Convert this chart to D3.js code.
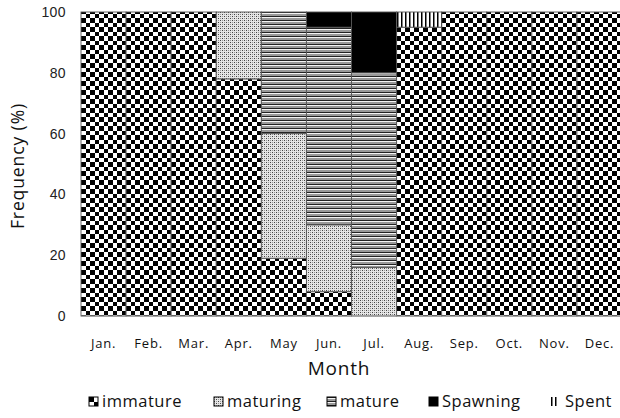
<!DOCTYPE html>
<html>
<head>
<meta charset="utf-8">
<script src="https://cdn.jsdelivr.net/npm/d3@7"></script>
<style>
	body { margin: 0; background: #fff; }
	svg { display: block; font-family: "Open Sans", Lato, sans-serif; }
</style>
</head>
<body>
<div id="chart"></div>
<script>
// Data (percent of each stage per month)
const months = ["Jan.", "Feb.", "Mar.", "Apr.", "May", "Jun.", "Jul.", "Aug.", "Sep.", "Oct.", "Nov.", "Dec."];
const stages = ["immature", "maturing", "mature", "Spawning", "Spent"];
const immature = [100, 100, 100, 78, 19, 8, 0, 95, 100, 100, 100, 100];
const maturing = [0, 0, 0, 22, 41, 22, 16, 0, 0, 0, 0, 0];
const mature = [0, 0, 0, 0, 40, 65, 64, 0, 0, 0, 0, 0];
const spawning = [0, 0, 0, 0, 0, 5, 20, 0, 0, 0, 0, 0];
const spent = [0, 0, 0, 0, 0, 0, 0, 5, 0, 0, 0, 0];
const yTicks = [0, 20, 40, 60, 80, 100];

const width = 620, height = 418;
const margin = {top: 12, right: -2, bottom: 102, left: 81};

const table = months.map((m, i) => ({
	month: m,
	immature: immature[i],
	maturing: maturing[i],
	mature: mature[i],
	Spawning: spawning[i],
	Spent: spent[i]
}));

const svg = d3.select("#chart").append("svg")
	.attr("width", width)
	.attr("height", height);

// Patterns
const defs = svg.append("defs");

let p = defs.append("pattern").attr("id", "pat-immature")
	.attr("patternUnits", "userSpaceOnUse").attr("width", 9).attr("height", 9);
p.append("rect").attr("width", 9).attr("height", 9).attr("fill", "#fff");
p.append("rect").attr("width", 4.5).attr("height", 4.5).attr("fill", "#000")
	.attr("shape-rendering", "crispEdges");
p.append("rect").attr("x", 4.5).attr("y", 4.5).attr("width", 4.5).attr("height", 4.5).attr("fill", "#000")
	.attr("shape-rendering", "crispEdges");

p = defs.append("pattern").attr("id", "pat-maturing")
	.attr("patternUnits", "userSpaceOnUse").attr("width", 4).attr("height", 4);
p.append("rect").attr("width", 4).attr("height", 4).attr("fill", "#e6e6e6");
p.append("rect").attr("width", 1).attr("height", 1).attr("fill", "#444");
p.append("rect").attr("x", 2).attr("y", 2).attr("width", 1).attr("height", 1).attr("fill", "#444");
p.append("rect").attr("x", 2).attr("y", 0).attr("width", 1).attr("height", 1).attr("fill", "#999");
p.append("rect").attr("x", 0).attr("y", 2).attr("width", 1).attr("height", 1).attr("fill", "#999");

p = defs.append("pattern").attr("id", "pat-mature")
	.attr("patternUnits", "userSpaceOnUse").attr("width", 4).attr("height", 4);
p.append("rect").attr("width", 4).attr("height", 4).attr("fill", "#999");
p.append("rect").attr("width", 4).attr("height", 1).attr("fill", "#222");
p.append("rect").attr("y", 1).attr("width", 4).attr("height", 1).attr("fill", "#f4f4f4");

p = defs.append("pattern").attr("id", "pat-Spawning")
	.attr("patternUnits", "userSpaceOnUse").attr("width", 4).attr("height", 4);
p.append("rect").attr("width", 4).attr("height", 4).attr("fill", "#000");

p = defs.append("pattern").attr("id", "pat-Spent")
	.attr("patternUnits", "userSpaceOnUse").attr("width", 4).attr("height", 4);
p.append("rect").attr("width", 4).attr("height", 4).attr("fill", "#fff");
p.append("rect").attr("x", 1).attr("width", 1.5).attr("height", 4).attr("fill", "#000");

// Scales
const x = d3.scaleBand()
	.domain(months)
	.range([margin.left, width - margin.right])
	.padding(0);
const y = d3.scaleLinear()
	.domain([0, 100])
	.range([height - margin.bottom, margin.top]);

const series = d3.stack().keys(stages)(table);

// Bars
svg.append("g").selectAll("g")
	.data(series)
	.join("g")
		.attr("fill", d => "url(#pat-" + d.key + ")")
	.selectAll("rect")
	.data(d => d.filter(s => s[1] - s[0] > 0))
	.join("rect")
		.attr("x", d => x(d.data.month))
		.attr("y", d => y(d[1]))
		.attr("width", x.bandwidth())
		.attr("height", d => y(d[0]) - y(d[1]))
		.attr("stroke", "#555")
		.attr("stroke-width", 0.9);

// Bottom axis line
svg.append("line")
	.attr("x1", margin.left).attr("x2", width)
	.attr("y1", y(0)).attr("y2", y(0))
	.attr("stroke", "#999").attr("stroke-width", 1.2);

// Y tick labels
svg.append("g").selectAll("text")
	.data(yTicks)
	.join("text")
		.attr("x", 66)
		.attr("y", d => y(d) + 5)
		.attr("text-anchor", "end")
		.style("font-family", "'Liberation Sans', Arial, sans-serif")
		.style("font-size", "14px")
		.style("letter-spacing", "0.4px")
		.attr("fill", "#222")
		.text(d => d);

// Month labels
svg.append("g").selectAll("text")
	.data(months)
	.join("text")
		.attr("x", d => x(d) + x.bandwidth() / 2)
		.attr("y", 348)
		.attr("text-anchor", "middle")
		.style("font-size", "13px")
		.style("letter-spacing", "0.8px")
		.attr("fill", "#111")
		.text(d => d);

// Axis titles
svg.append("text")
	.attr("x", 339)
	.attr("y", 375)
	.attr("text-anchor", "middle")
	.style("font-size", "19px")
	.style("letter-spacing", "0.8px")
	.attr("fill", "#111")
	.text("Month");

svg.append("text")
	.attr("transform", "translate(24," + 166 + ") rotate(-90)")
	.attr("text-anchor", "middle")
	.style("font-size", "17.5px")
	.style("letter-spacing", "0.9px")
	.attr("fill", "#111")
	.text("Frequency (%)");

// Legend
const legendX = [89, 214, 327, 429, 550];
const legend = svg.append("g").selectAll("g")
	.data(stages)
	.join("g")
		.attr("transform", (d, i) => "translate(" + legendX[i] + ",397)");

legend.append("rect")
	.attr("width", 9).attr("height", 9)
	.attr("fill", d => "url(#pat-" + d + ")")
	.attr("stroke", d => d === "Spent" ? "none" : "#000")
	.attr("stroke-width", 1);

legend.append("text")
	.attr("x", d => d === "Spent" ? 15 : 13)
	.attr("y", 10)
	.style("font-size", "16.5px")
	.style("letter-spacing", "0.5px")
	.attr("fill", "#111")
	.text(d => d);
</script>
</body>
</html>
